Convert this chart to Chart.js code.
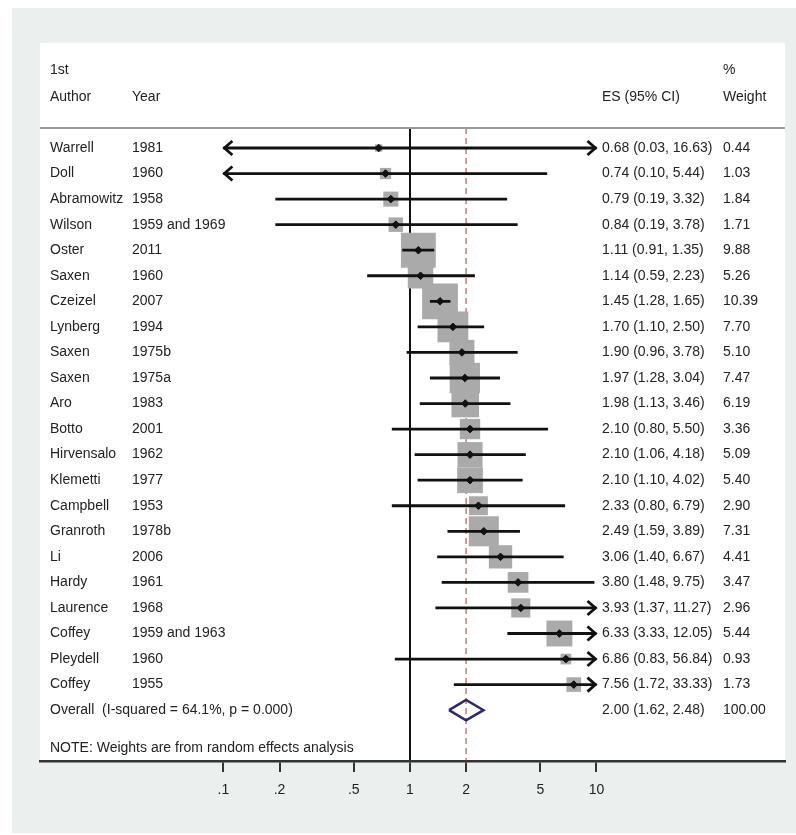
<!DOCTYPE html>
<html>
<head>
<meta charset="utf-8">
<script src="https://cdn.jsdelivr.net/npm/chart.js@4/dist/chart.umd.min.js"></script>
<style>
  html, body { margin: 0; padding: 0; background: #fff; overflow: hidden; }
  canvas { display: block; }
</style>
</head>
<body>
<canvas id="forest" width="796" height="835"></canvas>
<script>
// study rows, top to bottom
var authors = ['Warrell', 'Doll', 'Abramowitz', 'Wilson', 'Oster', 'Saxen', 'Czeizel', 'Lynberg',
  'Saxen', 'Saxen', 'Aro', 'Botto', 'Hirvensalo', 'Klemetti', 'Campbell', 'Granroth', 'Li',
  'Hardy', 'Laurence', 'Coffey', 'Pleydell', 'Coffey'];
var years = ['1981', '1960', '1958', '1959 and 1969', '2011', '1960', '2007', '1994',
  '1975b', '1975a', '1983', '2001', '1962', '1977', '1953', '1978b', '2006',
  '1961', '1968', '1959 and 1963', '1960', '1955'];
var es = [0.68, 0.74, 0.79, 0.84, 1.11, 1.14, 1.45, 1.70, 1.90, 1.97, 1.98, 2.10, 2.10, 2.10,
  2.33, 2.49, 3.06, 3.80, 3.93, 6.33, 6.86, 7.56];
var lower = [0.03, 0.10, 0.19, 0.19, 0.91, 0.59, 1.28, 1.10, 0.96, 1.28, 1.13, 0.80, 1.06, 1.10,
  0.80, 1.59, 1.40, 1.48, 1.37, 3.33, 0.83, 1.72];
var upper = [16.63, 5.44, 3.32, 3.78, 1.35, 2.23, 1.65, 2.50, 3.78, 3.04, 3.46, 5.50, 4.18, 4.02,
  6.79, 3.89, 6.67, 9.75, 11.27, 12.05, 56.84, 33.33];
var weights = [0.44, 1.03, 1.84, 1.71, 9.88, 5.26, 10.39, 7.70, 5.10, 7.47, 6.19, 3.36, 5.09, 5.40,
  2.90, 7.31, 4.41, 3.47, 2.96, 5.44, 0.93, 1.73];

// pooled estimate
var overallES = 2.00;
var overallLower = 1.62;
var overallUpper = 2.48;
var overallWeight = 100.00;
var overallLabel = 'Overall  (I-squared = 64.1%, p = 0.000)';
var noteText = 'NOTE: Weights are from random effects analysis';

var xTicks = [0.1, 0.2, 0.5, 1, 2, 5, 10];
var xTickLabels = ['.1', '.2', '.5', '1', '2', '5', '10'];

// ---- layout / style ----
var FONT = '14px "Liberation Sans", Arial, sans-serif';
var TEXT = '#222';
var CLIP_MIN = 0.1, CLIP_MAX = 10;
var Y_MIN = -0.783, Y_MAX = 23.99;
var overallRow = authors.length;

function fmt(v) { return v.toFixed(2); }

var squares = [], markers = [], ciLine = [];
for (var i = 0; i < authors.length; i++) {
  squares.push({x: es[i], y: i});
  markers.push({x: es[i], y: i});
  ciLine.push({x: Math.max(lower[i], CLIP_MIN), y: i});
  ciLine.push({x: Math.min(upper[i], CLIP_MAX), y: i});
  ciLine.push({x: null, y: null});
}

var DH = 0.4; // diamond half height in rows
var diamond = [
  {x: overallLower, y: overallRow}, {x: overallES, y: overallRow - DH},
  {x: overallUpper, y: overallRow}, {x: overallES, y: overallRow + DH},
  {x: overallLower, y: overallRow}
];

var backdrop = {
  id: 'backdrop',
  beforeDraw: function (chart) {
    var c = chart.ctx;
    c.save();
    c.fillStyle = '#ffffff';
    c.fillRect(0, 0, chart.width, chart.height);
    c.fillStyle = '#ebf0ef';
    c.fillRect(12, 8, chart.width - 12, chart.height - 10);
    c.fillStyle = '#ffffff';
    c.fillRect(chart.chartArea.left, 43, chart.chartArea.right - chart.chartArea.left,
      chart.chartArea.bottom - 43);
    c.restore();
  }
};

var arrows = {
  id: 'arrows',
  afterDatasetsDraw: function (chart) {
    var c = chart.ctx, xs = chart.scales.x, ys = chart.scales.y;
    c.save();
    c.strokeStyle = '#111';
    c.lineWidth = 2.8;
    c.lineJoin = 'miter';
    for (var i = 0; i < authors.length; i++) {
      var y = ys.getPixelForValue(i);
      if (lower[i] <= CLIP_MIN) {
        var xl = xs.getPixelForValue(CLIP_MIN);
        c.beginPath();
        c.moveTo(xl + 9, y - 7); c.lineTo(xl + 1, y); c.lineTo(xl + 9, y + 7);
        c.stroke();
      }
      if (upper[i] >= CLIP_MAX) {
        var xr = xs.getPixelForValue(CLIP_MAX);
        c.beginPath();
        c.moveTo(xr - 9, y - 7); c.lineTo(xr - 1, y); c.lineTo(xr - 9, y + 7);
        c.stroke();
      }
    }
    c.restore();
  }
};

var columns = {
  id: 'columns',
  afterDraw: function (chart) {
    var c = chart.ctx, ys = chart.scales.y, area = chart.chartArea;
    var colAuthor = 50, colYear = 132, colES = 602, colW = 723;
    c.save();
    // header rule
    c.strokeStyle = '#9a9a9a';
    c.lineWidth = 2;
    c.beginPath();
    c.moveTo(area.left, area.top); c.lineTo(area.right, area.top);
    c.stroke();

    c.font = FONT;
    c.fillStyle = TEXT;
    c.textBaseline = 'middle';
    c.textAlign = 'left';
    var h1 = ys.getPixelForValue(-3.05), h2 = ys.getPixelForValue(-2);
    c.fillText('1st', colAuthor, h1);
    c.fillText('Author', colAuthor, h2);
    c.fillText('Year', colYear, h2);
    c.fillText('ES (95% CI)', colES, h2);
    c.fillText('%', colW, h1);
    c.fillText('Weight', colW, h2);

    for (var i = 0; i < authors.length; i++) {
      var y = ys.getPixelForValue(i);
      c.fillText(authors[i], colAuthor, y);
      c.fillText(years[i], colYear, y);
      c.fillText(fmt(es[i]) + ' (' + fmt(lower[i]) + ', ' + fmt(upper[i]) + ')', colES, y);
      c.fillText(fmt(weights[i]), colW, y);
    }
    var yo = ys.getPixelForValue(overallRow);
    c.fillText(overallLabel, colAuthor, yo);
    c.fillText(fmt(overallES) + ' (' + fmt(overallLower) + ', ' + fmt(overallUpper) + ')', colES, yo);
    c.fillText(fmt(overallWeight), colW, yo);
    c.fillText(noteText, colAuthor, ys.getPixelForValue(overallRow + 1.48));
    c.restore();
  }
};

new Chart(document.getElementById('forest').getContext('2d'), {
  type: 'scatter',
  data: {
    datasets: [
      {
        label: 'overall line',
        data: [{x: overallES, y: Y_MIN}, {x: overallES, y: Y_MAX}],
        showLine: true,
        borderColor: '#a83a3a',
        borderWidth: 1,
        borderDash: [6, 4],
        pointRadius: 0,
        order: 5
      },
      {
        label: 'weights',
        data: squares,
        pointStyle: 'rect',
        backgroundColor: '#aaaaaa',
        borderWidth: 0,
        pointRadius: function (ctx) {
          var side = 11.1 * Math.sqrt(weights[ctx.dataIndex]);
          return side / Math.SQRT2;
        },
        order: 4
      },
      {
        label: 'CI',
        data: ciLine,
        showLine: true,
        spanGaps: false,
        borderColor: '#111',
        borderWidth: 2.8,
        pointRadius: 0,
        order: 3
      },
      {
        label: 'overall',
        data: diamond,
        showLine: true,
        borderColor: '#2a2a6e',
        borderWidth: 2.5,
        pointRadius: 0,
        tension: 0,
        order: 2
      },
      {
        label: 'ES',
        data: markers,
        pointStyle: 'rectRot',
        backgroundColor: '#111',
        borderColor: '#111',
        borderWidth: 1,
        pointRadius: 3.8,
        order: 1
      }
    ]
  },
  options: {
    responsive: false,
    animation: false,
    events: [],
    layout: { autoPadding: false, padding: { left: 40, right: 11, top: 128, bottom: 34 } },
    plugins: { legend: { display: false }, tooltip: { enabled: false } },
    scales: {
      x: {
        type: 'logarithmic',
        min: 0.0104,
        max: 102.5,
        afterBuildTicks: function (scale) {
          scale.ticks = xTicks.map(function (v) { return {value: v}; });
        },
        afterFit: function (scale) { scale.height = 40; },
        ticks: {
          autoSkip: false,
          maxRotation: 0,
          padding: 10,
          color: TEXT,
          font: { family: '"Liberation Sans", Arial, sans-serif', size: 14 },
          callback: function (value, index) { return xTickLabels[index]; }
        },
        grid: {
          color: function (ctx) {
            return ctx.tick && ctx.tick.value === 1 ? '#111' : 'rgba(0,0,0,0)';
          },
          lineWidth: 2,
          tickColor: '#333',
          tickLength: 11,
          tickWidth: 2
        },
        border: { color: '#333', width: 2.5 }
      },
      y: {
        type: 'linear',
        reverse: true,
        min: Y_MIN,
        max: Y_MAX,
        display: false
      }
    }
  },
  plugins: [backdrop, arrows, columns]
});
</script>
</body>
</html>
